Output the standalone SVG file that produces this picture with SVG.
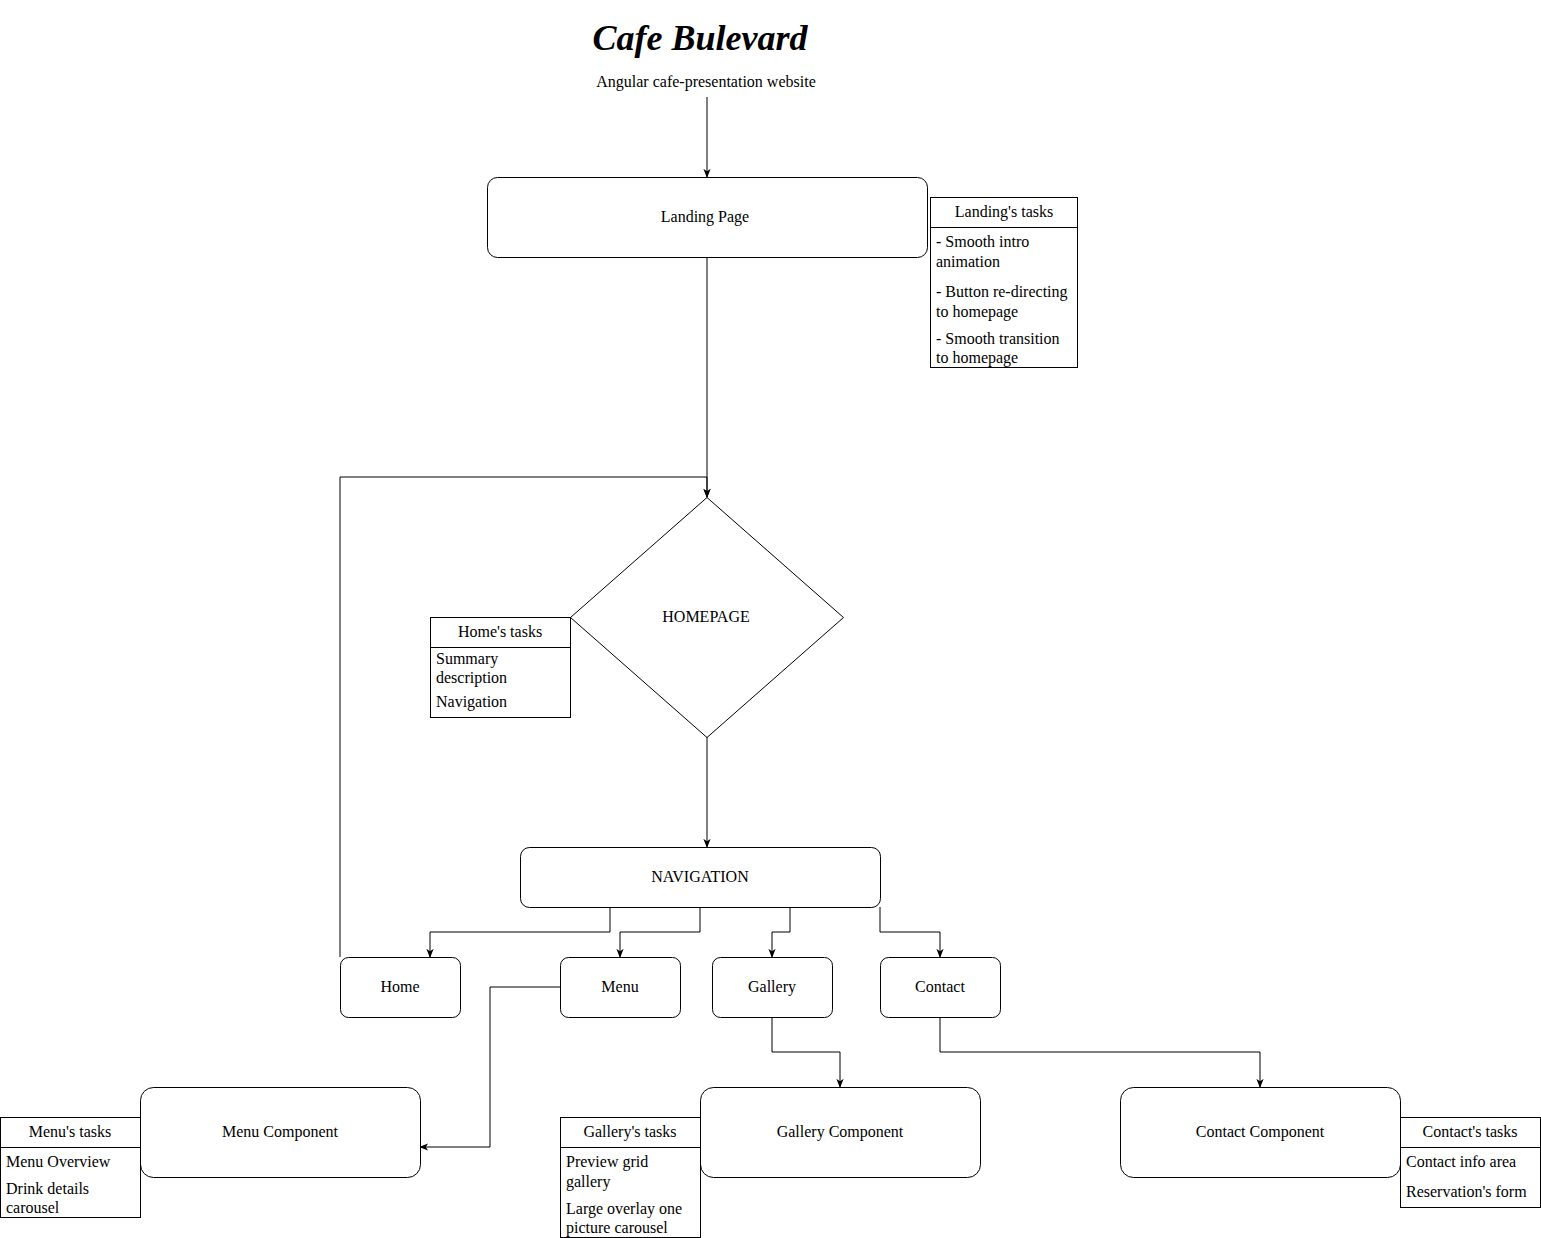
<svg xmlns="http://www.w3.org/2000/svg" width="1541" height="1238" viewBox="0 0 1541 1238">
<style>
text{font-family:"Liberation Serif","Times New Roman",serif;font-size:16px;fill:#000}
.c{text-anchor:middle}
.box{fill:#fff;stroke:#000;stroke-width:1}
.ln{fill:none;stroke:#000;stroke-width:1}
.title{font-size:36px;font-weight:bold;font-style:italic}
</style>
<defs>
<marker id="ah" viewBox="0 0 10 10" refX="9" refY="5" markerWidth="9" markerHeight="9" markerUnits="userSpaceOnUse" orient="auto">
<path d="M0,1 L10,5 L0,9 L2.5,5 Z" fill="#000"/>
</marker>
</defs>
<rect width="1541" height="1238" fill="#fff"/>
<g id="title">
<text class="c title" x="700" y="50">Cafe Bulevard</text>
<text class="c" x="706" y="87">Angular cafe-presentation website</text>
</g>
<g id="connectors">
<path class="ln" d="M707,97 V177" marker-end="url(#ah)"/>
<path class="ln" d="M707,257 V497" marker-end="url(#ah)"/>
<path class="ln" d="M340,957 V477 H707 V497" marker-end="url(#ah)"/>
<path class="ln" d="M707,737 V847" marker-end="url(#ah)"/>
<path class="ln" d="M610,907 V932 H430 V957" marker-end="url(#ah)"/>
<path class="ln" d="M700,907 V932 H620 V957" marker-end="url(#ah)"/>
<path class="ln" d="M790,907 V932 H772 V957" marker-end="url(#ah)"/>
<path class="ln" d="M880,907 V932 H940 V957" marker-end="url(#ah)"/>
<path class="ln" d="M560,987 H490 V1147 H420" marker-end="url(#ah)"/>
<path class="ln" d="M772,1017 V1052 H840 V1087" marker-end="url(#ah)"/>
<path class="ln" d="M940,1017 V1052 H1260 V1087" marker-end="url(#ah)"/>
</g>
<g id="landing">
<rect class="box" x="487.5" y="177.5" width="440" height="80" rx="10"/>
<text class="c" x="705" y="222">Landing Page</text>
</g>
<g id="landing-tasks">
<rect class="box" x="930.5" y="197.5" width="147" height="170"/>
<line class="ln" x1="930.5" y1="227.5" x2="1077.5" y2="227.5"/>
<text class="c" x="1004" y="217">Landing's tasks</text>
<text x="936" y="247">- Smooth intro</text>
<text x="936" y="267">animation</text>
<text x="936" y="297">- Button re-directing</text>
<text x="936" y="317">to homepage</text>
<text x="936" y="344">- Smooth transition</text>
<text x="936" y="363">to homepage</text>
</g>
<g id="homepage">
<path class="box" d="M707,497.5 L843.5,617.5 L707,737.5 L570.5,617.5 Z"/>
<text class="c" x="706" y="622">HOMEPAGE</text>
</g>
<g id="home-tasks">
<rect class="box" x="430.5" y="617.5" width="140" height="100"/>
<line class="ln" x1="430.5" y1="647.5" x2="570.5" y2="647.5"/>
<text class="c" x="500" y="637">Home's tasks</text>
<text x="436" y="664">Summary</text>
<text x="436" y="683">description</text>
<text x="436" y="707">Navigation</text>
</g>
<g id="navigation">
<rect class="box" x="520.5" y="847.5" width="360" height="60" rx="9"/>
<text class="c" x="700" y="882">NAVIGATION</text>
</g>
<g id="home">
<rect class="box" x="340.5" y="957.5" width="120" height="60" rx="8"/>
<text class="c" x="400" y="992">Home</text>
</g>
<g id="menu">
<rect class="box" x="560.5" y="957.5" width="120" height="60" rx="8"/>
<text class="c" x="620" y="992">Menu</text>
</g>
<g id="gallery">
<rect class="box" x="712.5" y="957.5" width="120" height="60" rx="8"/>
<text class="c" x="772" y="992">Gallery</text>
</g>
<g id="contact">
<rect class="box" x="880.5" y="957.5" width="120" height="60" rx="8"/>
<text class="c" x="940" y="992">Contact</text>
</g>
<g id="menu-component">
<rect class="box" x="140.5" y="1087.5" width="280" height="90" rx="13"/>
<text class="c" x="280" y="1137">Menu Component</text>
</g>
<g id="menu-tasks">
<rect class="box" x="0.5" y="1117.5" width="140" height="100"/>
<line class="ln" x1="0.5" y1="1147.5" x2="140.5" y2="1147.5"/>
<text class="c" x="70" y="1137">Menu's tasks</text>
<text x="6" y="1167">Menu Overview</text>
<text x="6" y="1194">Drink details</text>
<text x="6" y="1213">carousel</text>
</g>
<g id="gallery-component">
<rect class="box" x="700.5" y="1087.5" width="280" height="90" rx="13"/>
<text class="c" x="840" y="1137">Gallery Component</text>
</g>
<g id="gallery-tasks">
<rect class="box" x="560.5" y="1117.5" width="140" height="120"/>
<line class="ln" x1="560.5" y1="1147.5" x2="700.5" y2="1147.5"/>
<text class="c" x="630" y="1137">Gallery's tasks</text>
<text x="566" y="1167">Preview grid</text>
<text x="566" y="1187">gallery</text>
<text x="566" y="1214">Large overlay one</text>
<text x="566" y="1233">picture carousel</text>
</g>
<g id="contact-component">
<rect class="box" x="1120.5" y="1087.5" width="280" height="90" rx="13"/>
<text class="c" x="1260" y="1137">Contact Component</text>
</g>
<g id="contact-tasks">
<rect class="box" x="1400.5" y="1117.5" width="140" height="90"/>
<line class="ln" x1="1400.5" y1="1147.5" x2="1540.5" y2="1147.5"/>
<text class="c" x="1470" y="1137">Contact's tasks</text>
<text x="1406" y="1167">Contact info area</text>
<text x="1406" y="1197">Reservation's form</text>
</g>
</svg>
